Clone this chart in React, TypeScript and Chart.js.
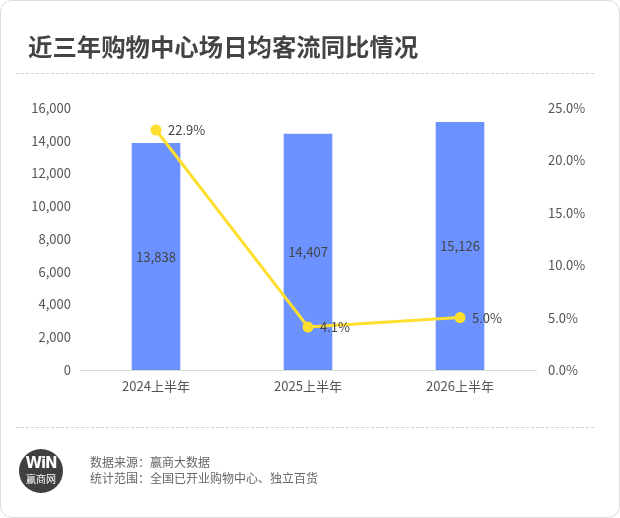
import React, { useEffect, useRef } from "react";
import { Chart, registerables } from "chart.js";

Chart.register(...registerables);

const categories = ["2024上半年", "2025上半年", "2026上半年"];
const footfall = [13838, 14407, 15126];
const yoyGrowth = [22.9, 4.1, 5.0];
const leftTicks = [0, 2000, 4000, 6000, 8000, 10000, 12000, 14000, 16000];
const rightTicks = [0, 5, 10, 15, 20, 25];

const FONT = "'Noto Sans CJK SC', 'Noto Sans', sans-serif";

const labelPlugin = {
  id: "valueLabels",
  afterDatasetsDraw(chart: any) {
    const ctx = chart.ctx;
    ctx.save();
    ctx.font = `13px ${FONT}`;
    ctx.fillStyle = "#444";
    const barMeta = chart.getDatasetMeta(0);
    barMeta.data.forEach((el: any, i: number) => {
      const mid = (el.y + el.base) / 2;
      ctx.textAlign = "center";
      ctx.textBaseline = "middle";
      ctx.fillText(footfall[i].toLocaleString("en-US"), el.x, mid);
    });
    const lineMeta = chart.getDatasetMeta(1);
    lineMeta.data.forEach((el: any, i: number) => {
      ctx.textAlign = "left";
      ctx.textBaseline = "middle";
      ctx.fillText(yoyGrowth[i].toFixed(1) + "%", el.x + 12, el.y);
    });
    ctx.restore();
  },
};

export default function App() {
  const ref = useRef<HTMLCanvasElement>(null);
  useEffect(() => {
    document.body.style.margin = "0";
    const chart = new Chart(ref.current!, {
      type: "bar",
      data: {
        labels: categories,
        datasets: [
          {
            type: "bar",
            data: footfall,
            backgroundColor: "#6B92FF",
            barThickness: 48,
            yAxisID: "y",
            order: 2,
          },
          {
            type: "line",
            data: yoyGrowth,
            borderColor: "#FFDF2E",
            backgroundColor: "#FFDF2E",
            borderWidth: 3,
            pointRadius: 4,
            pointHoverRadius: 4,
            yAxisID: "y1",
            order: 1,
          } as any,
        ],
      },
      options: {
        animation: false,
        responsive: false,
        maintainAspectRatio: false,
        layout: { padding: { top: 108, bottom: 118, left: 0, right: 0 } },
        plugins: { legend: { display: false }, tooltip: { enabled: false } },
        scales: {
          x: {
            grid: { display: false, drawTicks: false },
            border: { display: true, color: "#d9d9d9", width: 1 },
            ticks: { color: "#555", font: { family: FONT, size: 13 }, padding: 8 },
            afterFit: (s: any) => {
              s.height = 30;
            },
          },
          y: {
            position: "left",
            min: 0,
            max: 16000,
            grid: { display: false, drawTicks: false },
            border: { display: false },
            afterBuildTicks: (s: any) => {
              s.ticks = leftTicks.map((v) => ({ value: v }));
            },
            ticks: {
              color: "#555",
              font: { family: FONT, size: 13 },
              padding: 9,
              callback: (v: any) => Number(v).toLocaleString("en-US"),
            },
            afterFit: (s: any) => {
              s.width = 80;
            },
          },
          y1: {
            position: "right",
            min: 0,
            max: 25,
            grid: { display: false, drawTicks: false },
            border: { display: false },
            afterBuildTicks: (s: any) => {
              s.ticks = rightTicks.map((v) => ({ value: v }));
            },
            ticks: {
              color: "#555",
              font: { family: FONT, size: 13 },
              padding: 12,
              callback: (v: any) => Number(v).toFixed(1) + "%",
            },
            afterFit: (s: any) => {
              s.width = 84;
            },
          },
        },
      },
      plugins: [labelPlugin],
    });
    return () => chart.destroy();
  }, []);

  return (
    <div
      style={{
        position: "relative",
        width: 620,
        height: 518,
        boxSizing: "border-box",
        border: "1px solid #dcdcdc",
        borderRadius: 12,
        background: "#fff",
        overflow: "hidden",
        fontFamily: FONT,
      }}
    >
      <canvas
        ref={ref}
        width={620}
        height={518}
        style={{ position: "absolute", left: -1, top: -1, width: 620, height: 518 }}
      />
      <div
        style={{
          position: "absolute",
          left: 27,
          top: 29,
          fontSize: 24.4,
          fontWeight: 700,
          color: "#444",
          lineHeight: "32px",
          whiteSpace: "nowrap",
        }}
      >
        近三年购物中心场日均客流同比情况
      </div>
      <div
        style={{
          position: "absolute",
          left: 15,
          top: 72,
          width: 578,
          borderTop: "1px dashed #d0d0d0",
        }}
      />
      <div
        style={{
          position: "absolute",
          left: 15,
          top: 426,
          width: 578,
          borderTop: "1px dashed #d0d0d0",
        }}
      />
      <div
        style={{
          position: "absolute",
          left: 18,
          top: 448,
          width: 44,
          height: 44,
          borderRadius: "50%",
          background: "#404040",
          color: "#fff",
          textAlign: "center",
        }}
      >
        <div style={{ fontSize: 15, fontWeight: 900, lineHeight: "15px", marginTop: 7, fontFamily: "'DejaVu Sans', sans-serif", letterSpacing: -1 }}>
          WiN
        </div>
        <div style={{ fontSize: 10, lineHeight: "12px", marginTop: 2 }}>赢商网</div>
      </div>
      <div
        style={{
          position: "absolute",
          left: 89,
          top: 453,
          fontSize: 12,
          lineHeight: "16px",
          color: "#666",
          whiteSpace: "nowrap",
        }}
      >
        <div>数据来源：赢商大数据</div>
        <div>统计范围：全国已开业购物中心、独立百货</div>
      </div>
    </div>
  );
}
